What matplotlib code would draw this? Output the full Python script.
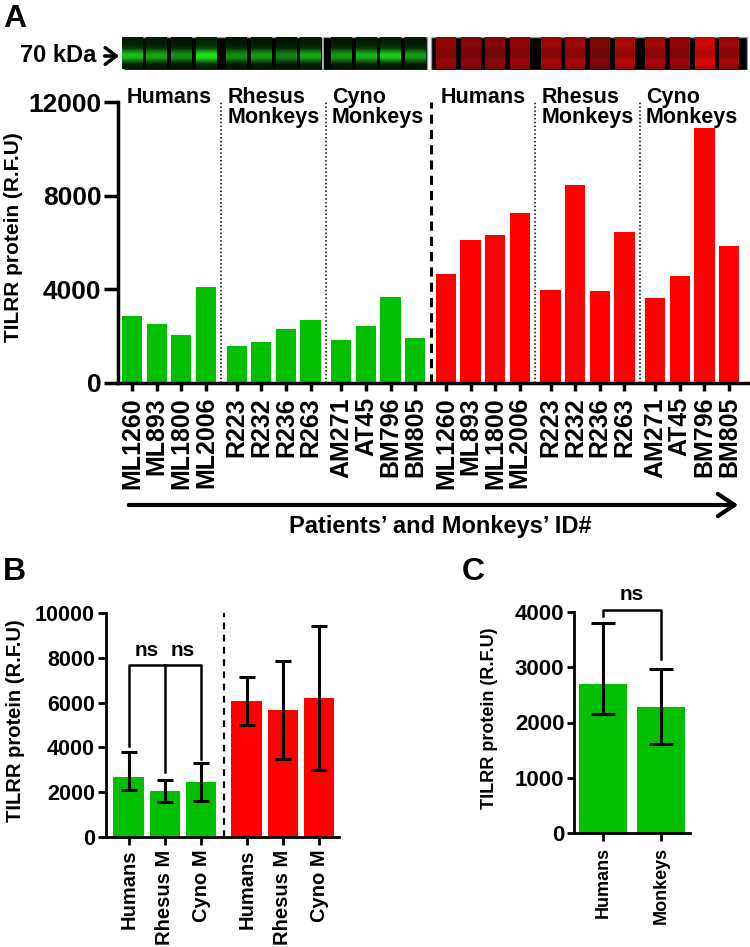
import numpy as np
import matplotlib
matplotlib.use('Agg')
import matplotlib.pyplot as plt
from matplotlib.patches import Rectangle

plt.rcParams['font.family'] = ['Liberation Sans', 'DejaVu Sans']
plt.rcParams['font.weight'] = 'bold'

# ---- data ----
ids = ['ML1260', 'ML893', 'ML1800', 'ML2006', 'R223', 'R232', 'R236', 'R263',
       'AM271', 'AT45', 'BM796', 'BM805']
green_vals = [2850, 2500, 2040, 4100, 1600, 1770, 2310, 2670, 1830, 2450, 3690, 1920]
red_vals = [4660, 6100, 6300, 7270, 3980, 8470, 3910, 6450, 3640, 4580, 10900, 5830]
groups = ['Humans', 'Rhesus\nMonkeys', 'Cyno\nMonkeys']

# blot lane brightness (decorative)
green_lane = [0.8, 0.7, 0.6, 0.95, 0.6, 0.65, 0.55, 0.7, 0.65, 0.75, 0.85, 0.65]
red_lane = [0.6, 0.55, 0.55, 0.6, 0.65, 0.65, 0.5, 0.7, 0.65, 0.6, 0.85, 0.65]
green_profile = [0.15, 0.18, 0.2, 0.3, 0.7, 1.0, 0.95, 0.55, 0.18, 0.12]
red_profile = [0.75, 0.8, 0.8, 0.75, 0.7, 0.7, 0.75, 0.85, 0.8, 0.7]

b_labels = ['Humans', 'Rhesus M', 'Cyno M', 'Humans', 'Rhesus M', 'Cyno M']
b_means = [2690, 2070, 2440, 6050, 5670, 6200]
b_upper = [3780, 2560, 3320, 7130, 7870, 9420]
b_lower = [2110, 1560, 1610, 4980, 3480, 2990]

c_labels = ['Humans', 'Monkeys']
c_means = [2690, 2280]
c_upper = [3800, 2960]
c_lower = [2150, 1610]

GREEN = '#00c000'
RED = '#ff0000'

W, H = 750, 947
fig = plt.figure(figsize=(W / 100, H / 100), dpi=100)


def box(l, t, r, b):
    return [l / W, 1 - b / H, (r - l) / W, (b - t) / H]


# ---- panel A ----
all_ids = ids + ids
all_vals = green_vals + red_vals
pos = np.array([i + (i // 4) * 0.25 for i in range(24)])
cols = [GREEN] * 12 + [RED] * 12
xlimA = (-0.57, 25.02)

axA = fig.add_axes(box(118, 102, 748, 383))
axA.bar(pos, all_vals, width=0.82, color=cols, linewidth=0)
axA.set_xlim(*xlimA)
axA.set_ylim(0, 12000)
axA.set_yticks([0, 4000, 8000, 12000])
axA.set_yticklabels(['0', '4000', '8000', '12000'], fontsize=19, fontweight='bold')
axA.set_xticks(pos)
axA.set_xticklabels(all_ids, rotation=90, fontsize=18, fontweight='bold')
axA.tick_params(axis='y', length=10, width=2.5, pad=2)
axA.tick_params(axis='x', length=6, width=2.5, pad=4)
for s in ['top', 'right']:
    axA.spines[s].set_visible(False)
for s in ['left', 'bottom']:
    axA.spines[s].set_linewidth(2.5)
axA.set_ylabel('TILRR protein (R.F.U)', fontsize=15, fontweight='bold')
axA.yaxis.set_label_coords(-0.151, 0.52)

for g in range(6):
    if g in (1, 2, 4, 5):
        xm = (pos[4 * g - 1] + pos[4 * g]) / 2
        axA.axvline(xm, color='black', ls=(0, (1, 1.5)), lw=1.1)
    axA.text(pos[4 * g] + 1.5, 12640, groups[g % 3], ha='center', va='top',
             multialignment='left', fontsize=15.5, fontweight='bold',
             linespacing=0.95, clip_on=False)
axA.axvline((pos[11] + pos[12]) / 2, color='black', ls=(0, (3, 2)), lw=2.2)

# blot strip
axBl = fig.add_axes(box(118, 37, 748, 70))
axBl.add_patch(Rectangle((-0.33, 0), 12.32, 1, facecolor='black',
                         edgecolor='#9a9a9a', lw=1, zorder=0))
axBl.add_patch(Rectangle((12.15, 0), 12.81, 1, facecolor='black',
                         edgecolor='#9a9a9a', lw=1, zorder=0))
gp = np.array(green_profile)
rp = np.array(red_profile)
for i in range(12):
    img = np.zeros((len(gp), 1, 3))
    img[:, 0, 0] = 0.12 * gp * green_lane[i]
    img[:, 0, 1] = np.clip(0.95 * gp * green_lane[i], 0, 1)
    img[:, 0, 2] = 0.12 * gp * green_lane[i]
    axBl.imshow(img, extent=(pos[i] - 0.42, pos[i] + 0.42, 0.03, 0.97),
                aspect='auto', interpolation='bilinear', zorder=2)
    img = np.zeros((len(rp), 1, 3))
    img[:, 0, 0] = np.clip(1.2 * rp * red_lane[i], 0, 1)
    img[:, 0, 1] = 0.04 * rp
    img[:, 0, 2] = 0.04 * rp
    axBl.imshow(img, extent=(pos[12 + i] - 0.4, pos[12 + i] + 0.4, 0.03, 0.97),
                aspect='auto', interpolation='bilinear', zorder=2)
axBl.plot([7.75, 7.75], [0, 1], color='#cccccc', lw=1.2, zorder=3)
axBl.set_xlim(*xlimA)
axBl.set_ylim(0, 1)
axBl.axis('off')

fig.text(20 / W, 1 - 56 / H, '70 kDa', fontsize=17, fontweight='bold',
         va='center', ha='left')
fig.add_artist(matplotlib.patches.FancyArrowPatch(
    (102 / W, 1 - 56 / H), (122 / W, 1 - 56 / H), transform=fig.transFigure,
    arrowstyle='->,head_length=0.4,head_width=0.3', mutation_scale=20,
    lw=2.5, color='black'))

fig.add_artist(matplotlib.patches.FancyArrowPatch(
    (126 / W, 1 - 505 / H), (741 / W, 1 - 505 / H), transform=fig.transFigure,
    arrowstyle='->,head_length=0.6,head_width=0.4', mutation_scale=20,
    lw=3, color='black'))
fig.text(440 / W, 1 - 526 / H, 'Patients\u2019 and Monkeys\u2019 ID#',
         fontsize=17, fontweight='bold', ha='center', va='center')

fig.text(3 / W, 1 - 19 / H, 'A', fontsize=23, fontweight='bold', va='center')
fig.text(3 / W, 1 - 572 / H, 'B', fontsize=23, fontweight='bold', va='center')
fig.text(462 / W, 1 - 572 / H, 'C', fontsize=23, fontweight='bold', va='center')

# ---- panel B ----
posB = np.array([0, 1, 2, 3.26, 4.26, 5.26])
axB = fig.add_axes(box(106, 613, 339, 837))
axB.bar(posB, b_means, width=0.84, color=[GREEN] * 3 + [RED] * 3, linewidth=0)
errB = [np.array(b_means) - np.array(b_lower), np.array(b_upper) - np.array(b_means)]
axB.errorbar(posB, b_means, yerr=errB, fmt='none', ecolor='black',
             elinewidth=2.2, capsize=5.5, capthick=2.2)
axB.set_xlim(-0.627, 5.81)
axB.set_ylim(0, 10000)
axB.set_yticks(range(0, 10001, 2000))
axB.set_xticks(posB)
axB.set_xticklabels(b_labels, rotation=90, fontsize=14.5, fontweight='bold')
axB.tick_params(axis='y', labelsize=15.5, length=6, width=2, pad=2)
axB.tick_params(axis='x', length=6, width=2, pad=3)
for s in ['top', 'right']:
    axB.spines[s].set_visible(False)
for s in ['left', 'bottom']:
    axB.spines[s].set_linewidth(2)
axB.axvline(2.63, color='black', ls=(0, (3, 2.5)), lw=1.6)
axB.set_ylabel('TILRR protein (R.F.U)', fontsize=14.5, fontweight='bold')
axB.yaxis.set_label_coords(-0.348, 0.52)

# significance brackets (B)
axB.plot([0, 0, 2, 2], [4050, 7700, 7700, 3500], color='black', lw=1.8)
axB.plot([1, 1], [2900, 7700], color='black', lw=1.8)
axB.text(0.5, 7900, 'ns', ha='center', va='bottom', fontsize=15, fontweight='bold')
axB.text(1.5, 7900, 'ns', ha='center', va='bottom', fontsize=15, fontweight='bold')

# ---- panel C ----
posC = np.array([0, 1])
axC = fig.add_axes(box(574, 612, 690, 833))
axC.bar(posC, c_means, width=0.82, color=GREEN, linewidth=0)
errC = [np.array(c_means) - np.array(c_lower), np.array(c_upper) - np.array(c_means)]
axC.errorbar(posC, c_means, yerr=errC, fmt='none', ecolor='black',
             elinewidth=2.2, capsize=8.5, capthick=2.2)
axC.set_xlim(-0.497, 1.49)
axC.set_ylim(0, 4000)
axC.set_yticks(range(0, 4001, 1000))
axC.set_xticks(posC)
axC.set_xticklabels(c_labels, rotation=90, fontsize=13, fontweight='bold')
axC.tick_params(axis='y', labelsize=16, length=5, width=2, pad=2)
axC.tick_params(axis='x', length=6, width=2, pad=4)
for s in ['top', 'right']:
    axC.spines[s].set_visible(False)
for s in ['left', 'bottom']:
    axC.spines[s].set_linewidth(2)
axC.set_ylabel('TILRR protein (R.F.U)', fontsize=13, fontweight='bold')
axC.yaxis.set_label_coords(-0.655, 0.52)
axC.plot([0, 0, 1, 1], [3920, 4040, 4040, 3150], color='black', lw=1.8,
         clip_on=False)
axC.text(0.49, 4150, 'ns', ha='center', va='bottom', fontsize=15, fontweight='bold')

fig.savefig('out.png', dpi=100)
